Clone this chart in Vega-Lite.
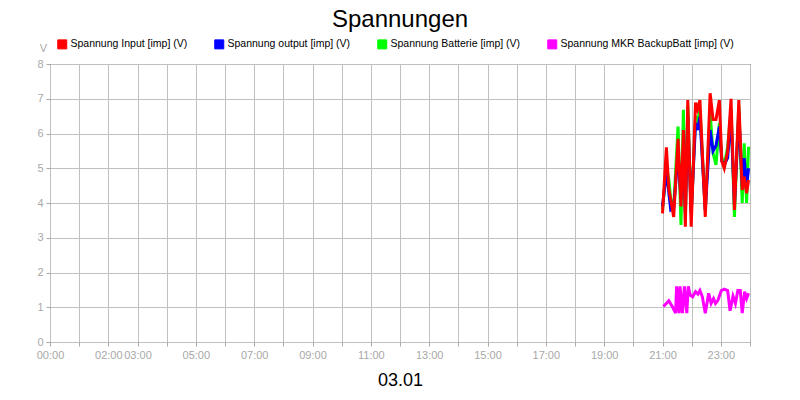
{
  "$schema": "https://vega.github.io/schema/vega-lite/v6.json",
  "width": 700,
  "height": 278,
  "autosize": {"type": "none"},
  "padding": {"left": 50, "top": 64, "right": 50, "bottom": 58},
  "background": "white",
  "title": {"text": "Spannungen", "fontSize": 24, "font": "Liberation Sans", "fontWeight": "normal", "color": "black", "anchor": "middle", "offset": 7},
  "data": {
    "values": [
      {"zeit": "2025-01-03T21:02:00", "reihe": "Spannung MKR BackupBatt [imp] (V)", "wert": 1.02},
      {"zeit": "2025-01-03T21:13:00", "reihe": "Spannung MKR BackupBatt [imp] (V)", "wert": 1.19},
      {"zeit": "2025-01-03T21:21:00", "reihe": "Spannung MKR BackupBatt [imp] (V)", "wert": 1.00},
      {"zeit": "2025-01-03T21:27:00", "reihe": "Spannung MKR BackupBatt [imp] (V)", "wert": 0.83},
      {"zeit": "2025-01-03T21:29:00", "reihe": "Spannung MKR BackupBatt [imp] (V)", "wert": 1.60},
      {"zeit": "2025-01-03T21:34:00", "reihe": "Spannung MKR BackupBatt [imp] (V)", "wert": 0.83},
      {"zeit": "2025-01-03T21:36:00", "reihe": "Spannung MKR BackupBatt [imp] (V)", "wert": 1.60},
      {"zeit": "2025-01-03T21:41:00", "reihe": "Spannung MKR BackupBatt [imp] (V)", "wert": 0.83},
      {"zeit": "2025-01-03T21:45:00", "reihe": "Spannung MKR BackupBatt [imp] (V)", "wert": 1.60},
      {"zeit": "2025-01-03T21:50:00", "reihe": "Spannung MKR BackupBatt [imp] (V)", "wert": 0.83},
      {"zeit": "2025-01-03T21:53:00", "reihe": "Spannung MKR BackupBatt [imp] (V)", "wert": 1.60},
      {"zeit": "2025-01-03T21:57:00", "reihe": "Spannung MKR BackupBatt [imp] (V)", "wert": 1.35},
      {"zeit": "2025-01-03T22:02:00", "reihe": "Spannung MKR BackupBatt [imp] (V)", "wert": 1.30},
      {"zeit": "2025-01-03T22:08:00", "reihe": "Spannung MKR BackupBatt [imp] (V)", "wert": 1.45},
      {"zeit": "2025-01-03T22:13:00", "reihe": "Spannung MKR BackupBatt [imp] (V)", "wert": 1.38},
      {"zeit": "2025-01-03T22:17:00", "reihe": "Spannung MKR BackupBatt [imp] (V)", "wert": 1.48},
      {"zeit": "2025-01-03T22:22:00", "reihe": "Spannung MKR BackupBatt [imp] (V)", "wert": 1.30},
      {"zeit": "2025-01-03T22:28:00", "reihe": "Spannung MKR BackupBatt [imp] (V)", "wert": 0.83},
      {"zeit": "2025-01-03T22:35:00", "reihe": "Spannung MKR BackupBatt [imp] (V)", "wert": 1.40},
      {"zeit": "2025-01-03T22:40:00", "reihe": "Spannung MKR BackupBatt [imp] (V)", "wert": 1.11},
      {"zeit": "2025-01-03T22:45:00", "reihe": "Spannung MKR BackupBatt [imp] (V)", "wert": 1.25},
      {"zeit": "2025-01-03T22:49:00", "reihe": "Spannung MKR BackupBatt [imp] (V)", "wert": 1.11},
      {"zeit": "2025-01-03T22:54:00", "reihe": "Spannung MKR BackupBatt [imp] (V)", "wert": 1.20},
      {"zeit": "2025-01-03T23:01:00", "reihe": "Spannung MKR BackupBatt [imp] (V)", "wert": 1.48},
      {"zeit": "2025-01-03T23:07:00", "reihe": "Spannung MKR BackupBatt [imp] (V)", "wert": 1.52},
      {"zeit": "2025-01-03T23:14:00", "reihe": "Spannung MKR BackupBatt [imp] (V)", "wert": 1.48},
      {"zeit": "2025-01-03T23:19:00", "reihe": "Spannung MKR BackupBatt [imp] (V)", "wert": 0.90},
      {"zeit": "2025-01-03T23:25:00", "reihe": "Spannung MKR BackupBatt [imp] (V)", "wert": 1.32},
      {"zeit": "2025-01-03T23:30:00", "reihe": "Spannung MKR BackupBatt [imp] (V)", "wert": 1.11},
      {"zeit": "2025-01-03T23:35:00", "reihe": "Spannung MKR BackupBatt [imp] (V)", "wert": 1.48},
      {"zeit": "2025-01-03T23:40:00", "reihe": "Spannung MKR BackupBatt [imp] (V)", "wert": 1.48},
      {"zeit": "2025-01-03T23:44:00", "reihe": "Spannung MKR BackupBatt [imp] (V)", "wert": 0.83},
      {"zeit": "2025-01-03T23:49:00", "reihe": "Spannung MKR BackupBatt [imp] (V)", "wert": 1.45},
      {"zeit": "2025-01-03T23:53:00", "reihe": "Spannung MKR BackupBatt [imp] (V)", "wert": 1.25},
      {"zeit": "2025-01-03T23:57:00", "reihe": "Spannung MKR BackupBatt [imp] (V)", "wert": 1.40},

      {"zeit": "2025-01-03T21:00:00", "reihe": "Spannung Batterie [imp] (V)", "wert": 3.80},
      {"zeit": "2025-01-03T21:08:00", "reihe": "Spannung Batterie [imp] (V)", "wert": 5.00},
      {"zeit": "2025-01-03T21:13:00", "reihe": "Spannung Batterie [imp] (V)", "wert": 4.70},
      {"zeit": "2025-01-03T21:17:00", "reihe": "Spannung Batterie [imp] (V)", "wert": 4.10},
      {"zeit": "2025-01-03T21:23:00", "reihe": "Spannung Batterie [imp] (V)", "wert": 3.90},
      {"zeit": "2025-01-03T21:32:00", "reihe": "Spannung Batterie [imp] (V)", "wert": 6.20},
      {"zeit": "2025-01-03T21:38:00", "reihe": "Spannung Batterie [imp] (V)", "wert": 3.37},
      {"zeit": "2025-01-03T21:43:00", "reihe": "Spannung Batterie [imp] (V)", "wert": 6.68},
      {"zeit": "2025-01-03T21:47:00", "reihe": "Spannung Batterie [imp] (V)", "wert": 3.50},
      {"zeit": "2025-01-03T21:52:00", "reihe": "Spannung Batterie [imp] (V)", "wert": 6.80},
      {"zeit": "2025-01-03T21:59:00", "reihe": "Spannung Batterie [imp] (V)", "wert": 3.70},
      {"zeit": "2025-01-03T22:08:00", "reihe": "Spannung Batterie [imp] (V)", "wert": 6.50},
      {"zeit": "2025-01-03T22:12:00", "reihe": "Spannung Batterie [imp] (V)", "wert": 6.30},
      {"zeit": "2025-01-03T22:17:00", "reihe": "Spannung Batterie [imp] (V)", "wert": 6.70},
      {"zeit": "2025-01-03T22:28:00", "reihe": "Spannung Batterie [imp] (V)", "wert": 3.80},
      {"zeit": "2025-01-03T22:38:00", "reihe": "Spannung Batterie [imp] (V)", "wert": 6.60},
      {"zeit": "2025-01-03T22:44:00", "reihe": "Spannung Batterie [imp] (V)", "wert": 5.43},
      {"zeit": "2025-01-03T22:50:00", "reihe": "Spannung Batterie [imp] (V)", "wert": 5.10},
      {"zeit": "2025-01-03T22:57:00", "reihe": "Spannung Batterie [imp] (V)", "wert": 6.30},
      {"zeit": "2025-01-03T23:02:00", "reihe": "Spannung Batterie [imp] (V)", "wert": 5.30},
      {"zeit": "2025-01-03T23:07:00", "reihe": "Spannung Batterie [imp] (V)", "wert": 5.10},
      {"zeit": "2025-01-03T23:14:00", "reihe": "Spannung Batterie [imp] (V)", "wert": 5.60},
      {"zeit": "2025-01-03T23:21:00", "reihe": "Spannung Batterie [imp] (V)", "wert": 6.70},
      {"zeit": "2025-01-03T23:28:00", "reihe": "Spannung Batterie [imp] (V)", "wert": 3.60},
      {"zeit": "2025-01-03T23:37:00", "reihe": "Spannung Batterie [imp] (V)", "wert": 6.80},
      {"zeit": "2025-01-03T23:44:00", "reihe": "Spannung Batterie [imp] (V)", "wert": 4.00},
      {"zeit": "2025-01-03T23:48:00", "reihe": "Spannung Batterie [imp] (V)", "wert": 5.72},
      {"zeit": "2025-01-03T23:53:00", "reihe": "Spannung Batterie [imp] (V)", "wert": 4.00},
      {"zeit": "2025-01-03T23:57:00", "reihe": "Spannung Batterie [imp] (V)", "wert": 5.62},

      {"zeit": "2025-01-03T21:00:00", "reihe": "Spannung output [imp] (V)", "wert": 3.90},
      {"zeit": "2025-01-03T21:08:00", "reihe": "Spannung output [imp] (V)", "wert": 4.90},
      {"zeit": "2025-01-03T21:13:00", "reihe": "Spannung output [imp] (V)", "wert": 4.30},
      {"zeit": "2025-01-03T21:17:00", "reihe": "Spannung output [imp] (V)", "wert": 3.80},
      {"zeit": "2025-01-03T21:23:00", "reihe": "Spannung output [imp] (V)", "wert": 3.85},
      {"zeit": "2025-01-03T21:32:00", "reihe": "Spannung output [imp] (V)", "wert": 5.43},
      {"zeit": "2025-01-03T21:38:00", "reihe": "Spannung output [imp] (V)", "wert": 4.10},
      {"zeit": "2025-01-03T21:43:00", "reihe": "Spannung output [imp] (V)", "wert": 5.60},
      {"zeit": "2025-01-03T21:47:00", "reihe": "Spannung output [imp] (V)", "wert": 3.70},
      {"zeit": "2025-01-03T21:52:00", "reihe": "Spannung output [imp] (V)", "wert": 6.50},
      {"zeit": "2025-01-03T21:59:00", "reihe": "Spannung output [imp] (V)", "wert": 3.70},
      {"zeit": "2025-01-03T22:08:00", "reihe": "Spannung output [imp] (V)", "wert": 6.30},
      {"zeit": "2025-01-03T22:12:00", "reihe": "Spannung output [imp] (V)", "wert": 6.10},
      {"zeit": "2025-01-03T22:17:00", "reihe": "Spannung output [imp] (V)", "wert": 6.48},
      {"zeit": "2025-01-03T22:28:00", "reihe": "Spannung output [imp] (V)", "wert": 3.80},
      {"zeit": "2025-01-03T22:38:00", "reihe": "Spannung output [imp] (V)", "wert": 6.10},
      {"zeit": "2025-01-03T22:44:00", "reihe": "Spannung output [imp] (V)", "wert": 5.50},
      {"zeit": "2025-01-03T22:50:00", "reihe": "Spannung output [imp] (V)", "wert": 5.65},
      {"zeit": "2025-01-03T22:57:00", "reihe": "Spannung output [imp] (V)", "wert": 6.20},
      {"zeit": "2025-01-03T23:02:00", "reihe": "Spannung output [imp] (V)", "wert": 5.20},
      {"zeit": "2025-01-03T23:07:00", "reihe": "Spannung output [imp] (V)", "wert": 5.10},
      {"zeit": "2025-01-03T23:14:00", "reihe": "Spannung output [imp] (V)", "wert": 5.30},
      {"zeit": "2025-01-03T23:21:00", "reihe": "Spannung output [imp] (V)", "wert": 6.50},
      {"zeit": "2025-01-03T23:28:00", "reihe": "Spannung output [imp] (V)", "wert": 3.94},
      {"zeit": "2025-01-03T23:37:00", "reihe": "Spannung output [imp] (V)", "wert": 6.60},
      {"zeit": "2025-01-03T23:44:00", "reihe": "Spannung output [imp] (V)", "wert": 4.47},
      {"zeit": "2025-01-03T23:48:00", "reihe": "Spannung output [imp] (V)", "wert": 5.29},
      {"zeit": "2025-01-03T23:53:00", "reihe": "Spannung output [imp] (V)", "wert": 4.47},
      {"zeit": "2025-01-03T23:57:00", "reihe": "Spannung output [imp] (V)", "wert": 5.00},

      {"zeit": "2025-01-03T21:00:00", "reihe": "Spannung Input [imp] (V)", "wert": 3.70},
      {"zeit": "2025-01-03T21:08:00", "reihe": "Spannung Input [imp] (V)", "wert": 5.60},
      {"zeit": "2025-01-03T21:13:00", "reihe": "Spannung Input [imp] (V)", "wert": 4.40},
      {"zeit": "2025-01-03T21:17:00", "reihe": "Spannung Input [imp] (V)", "wert": 4.10},
      {"zeit": "2025-01-03T21:23:00", "reihe": "Spannung Input [imp] (V)", "wert": 3.60},
      {"zeit": "2025-01-03T21:32:00", "reihe": "Spannung Input [imp] (V)", "wert": 5.85},
      {"zeit": "2025-01-03T21:38:00", "reihe": "Spannung Input [imp] (V)", "wert": 3.90},
      {"zeit": "2025-01-03T21:43:00", "reihe": "Spannung Input [imp] (V)", "wert": 6.10},
      {"zeit": "2025-01-03T21:47:00", "reihe": "Spannung Input [imp] (V)", "wert": 3.32},
      {"zeit": "2025-01-03T21:52:00", "reihe": "Spannung Input [imp] (V)", "wert": 6.96},
      {"zeit": "2025-01-03T21:59:00", "reihe": "Spannung Input [imp] (V)", "wert": 3.32},
      {"zeit": "2025-01-03T22:08:00", "reihe": "Spannung Input [imp] (V)", "wert": 6.89},
      {"zeit": "2025-01-03T22:12:00", "reihe": "Spannung Input [imp] (V)", "wert": 6.70},
      {"zeit": "2025-01-03T22:17:00", "reihe": "Spannung Input [imp] (V)", "wert": 6.96},
      {"zeit": "2025-01-03T22:28:00", "reihe": "Spannung Input [imp] (V)", "wert": 3.60},
      {"zeit": "2025-01-03T22:38:00", "reihe": "Spannung Input [imp] (V)", "wert": 7.16},
      {"zeit": "2025-01-03T22:44:00", "reihe": "Spannung Input [imp] (V)", "wert": 6.40},
      {"zeit": "2025-01-03T22:50:00", "reihe": "Spannung Input [imp] (V)", "wert": 6.40},
      {"zeit": "2025-01-03T22:57:00", "reihe": "Spannung Input [imp] (V)", "wert": 6.96},
      {"zeit": "2025-01-03T23:02:00", "reihe": "Spannung Input [imp] (V)", "wert": 5.20},
      {"zeit": "2025-01-03T23:07:00", "reihe": "Spannung Input [imp] (V)", "wert": 5.00},
      {"zeit": "2025-01-03T23:14:00", "reihe": "Spannung Input [imp] (V)", "wert": 5.48},
      {"zeit": "2025-01-03T23:21:00", "reihe": "Spannung Input [imp] (V)", "wert": 7.00},
      {"zeit": "2025-01-03T23:28:00", "reihe": "Spannung Input [imp] (V)", "wert": 3.80},
      {"zeit": "2025-01-03T23:37:00", "reihe": "Spannung Input [imp] (V)", "wert": 6.96},
      {"zeit": "2025-01-03T23:44:00", "reihe": "Spannung Input [imp] (V)", "wert": 4.37},
      {"zeit": "2025-01-03T23:48:00", "reihe": "Spannung Input [imp] (V)", "wert": 4.76},
      {"zeit": "2025-01-03T23:53:00", "reihe": "Spannung Input [imp] (V)", "wert": 4.28},
      {"zeit": "2025-01-03T23:57:00", "reihe": "Spannung Input [imp] (V)", "wert": 4.66}
    ]
  },
  "mark": {"type": "line", "strokeWidth": 3},
  "encoding": {
    "x": {
      "field": "zeit",
      "type": "temporal",
      "scale": {
        "domain": [
          {"year": 2025, "month": 1, "date": 3, "hours": 0},
          {"year": 2025, "month": 1, "date": 4, "hours": 0}
        ]
      },
      "axis": {
        "title": "03.01",
        "titleFontSize": 18,
        "titleFont": "Liberation Sans",
        "titleFontWeight": "normal",
        "titleColor": "black",
        "titleBaseline": "middle",
        "titleY": 38,
        "tickCount": 24,
        "labelExpr": "indexof([0,2,3,5,7,9,11,13,15,17,19,21,23], hours(datum.value)) >= 0 && date(datum.value) == 3 ? timeFormat(datum.value, '%H:%M') : ''",
        "labelOverlap": false,
        "labelFlush": false,
        "labelBound": false,
        "labelPadding": 3
      }
    },
    "y": {
      "field": "wert",
      "type": "quantitative",
      "title": "V",
      "scale": {"domain": [0, 8], "nice": false},
      "axis": {
        "values": [0, 1, 2, 3, 4, 5, 6, 7, 8],
        "titleAngle": 0,
        "titleX": -7,
        "titleY": -16,
        "titleAlign": "center",
        "titleBaseline": "middle",
        "titleColor": "#a8a8a8",
        "titleFontSize": 11,
        "titleFont": "Liberation Sans",
        "titleFontWeight": "normal",
        "labelPadding": 3
      }
    },
    "color": {
      "field": "reihe",
      "type": "nominal",
      "sort": null,
      "scale": {
        "domain": ["Spannung Input [imp] (V)", "Spannung output [imp] (V)", "Spannung Batterie [imp] (V)", "Spannung MKR BackupBatt [imp] (V)"],
        "range": ["#ff0000", "#0000ff", "#00ff00", "#ff00ff"]
      },
      "legend": {
        "title": null,
        "orient": "none",
        "legendX": 7,
        "legendY": -25,
        "direction": "horizontal",
        "columnPadding": 24,
        "padding": 0,
        "labelFont": "Liberation Sans",
        "labelFontSize": 10.5,
        "labelColor": "black",
        "labelOffset": 3,
        "labelLimit": 0,
        "symbolType": "square",
        "symbolSize": 81,
        "symbolStrokeColor": "black",
        "symbolStrokeWidth": 1,
        "encode": {
          "symbols": {
            "update": {
              "fill": {"scale": "color", "field": "value"},
              "stroke": {"value": "black"},
              "strokeWidth": {"value": 1},
              "opacity": {"value": 1}
            }
          }
        }
      }
    }
  },
  "config": {
    "view": {"stroke": "black", "strokeWidth": 1},
    "axis": {
      "domain": false,
      "grid": true,
      "gridColor": "#c0c0c0",
      "gridWidth": 1,
      "tickColor": "#a8a8a8",
      "tickSize": 4,
      "labelColor": "#a8a8a8",
      "labelFont": "Liberation Sans",
      "labelFontSize": 11
    }
  }
}
